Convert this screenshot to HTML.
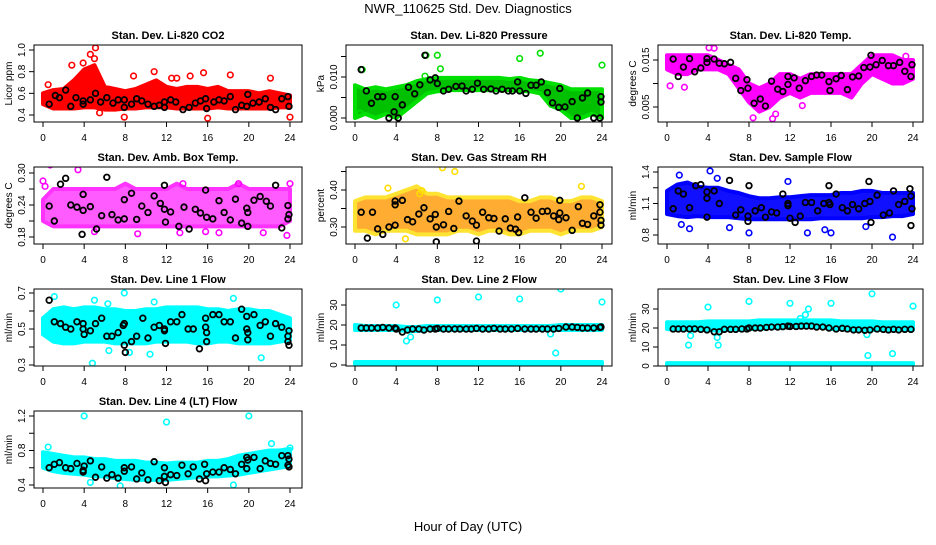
<!DOCTYPE html>
<html><head><meta charset="utf-8"><style>
html,body{margin:0;padding:0;background:#fff;}
svg text{font-family:"Liberation Sans",Arial,sans-serif;}
</style></head><body>
<svg id="c" width="936" height="540" viewBox="0 0 936 540" xmlns="http://www.w3.org/2000/svg">
<text x="468" y="13" font-size="13" text-anchor="middle">NWR_110625  Std. Dev. Diagnostics</text>
<text x="468" y="531" font-size="13" text-anchor="middle">Hour of Day (UTC)</text>
</svg>
<script>
const xTicks=[0,4,8,12,16,20,24];
const titles=["Stan. Dev. Li-820 CO2","Stan. Dev. Li-820 Pressure","Stan. Dev. Li-820 Temp.","Stan. Dev. Amb. Box Temp.","Stan. Dev. Gas Stream RH","Stan. Dev. Sample Flow","Stan. Dev. Line 1 Flow","Stan. Dev. Line 2 Flow","Stan. Dev. Line 3 Flow","Stan. Dev. Line 4 (LT) Flow"];
const yTitles=["Licor ppm","kPa","degrees C","degrees C","percent","ml/min","ml/min","ml/min","ml/min","ml/min"];
const yTickVals=[[0.4,0.6,0.8,1.0],[0,0.005,0.010,0.015],[0.005,0.010,0.015],[0.18,0.21,0.24,0.27,0.30],[0.30,0.35,0.40,0.45],[0.8,0.95,1.1,1.25,1.4],[0.3,0.4,0.5,0.6,0.7],[0,10,20,30],[0,10,20,30],[0.4,0.6,0.8,1.0,1.2]];
const yTickLabels=[["0.4","0.6","0.8","1.0"],["0.000","","0.010",""],["0.005","","0.015"],["0.18","","0.24","","0.30"],["0.30","","0.40",""],["0.8","","1.1","","1.4"],["0.3","","0.5","","0.7"],["0","10","20","30"],["0","10","20","30"],["0.4","","0.8","","1.2"]];

const bandLo1=[0.5,0.46,0.46,0.46,0.47,0.47,0.45,0.45,0.46,0.46,0.47,0.47,0.47,0.46,0.46,0.46,0.46,0.47,0.46,0.46,0.46,0.46,0.46,0.47,0.47];
const bandHi1=[0.6,0.63,0.64,0.72,0.82,0.86,0.66,0.64,0.62,0.64,0.68,0.72,0.66,0.64,0.66,0.66,0.64,0.66,0.62,0.62,0.62,0.6,0.62,0.6,0.58];
const bandLo2=[0,0.001,0,0.001,0,0.002,0.004,0.006,0.0065,0.0068,0.0068,0.0068,0.0068,0.0068,0.0068,0.0068,0.0066,0.0065,0.006,0.003,0.002,0,0,0.001,0];
const bandHi2=[0.008,0.007,0.0075,0.007,0.0075,0.008,0.009,0.0095,0.0098,0.0098,0.0098,0.0098,0.0098,0.0098,0.0098,0.0095,0.0098,0.0092,0.009,0.0085,0.008,0.007,0.007,0.007,0.007];
const bandLo3=[0.013,0.012,0.012,0.013,0.013,0.013,0.012,0.009,0.006,0.004,0.005,0.007,0.008,0.007,0.008,0.008,0.008,0.008,0.007,0.010,0.012,0.011,0.010,0.010,0.011];
const bandHi3=[0.016,0.016,0.016,0.016,0.016,0.015,0.014,0.013,0.010,0.009,0.010,0.012,0.012,0.011,0.012,0.012,0.012,0.012,0.012,0.014,0.016,0.016,0.016,0.015,0.015];
const bandLo4=[0.21,0.2,0.2,0.2,0.2,0.2,0.2,0.2,0.2,0.2,0.2,0.2,0.2,0.2,0.2,0.2,0.2,0.2,0.2,0.2,0.2,0.2,0.2,0.2,0.21];
const bandHi4=[0.25,0.27,0.27,0.27,0.27,0.27,0.27,0.27,0.28,0.27,0.27,0.27,0.27,0.28,0.27,0.27,0.27,0.27,0.27,0.28,0.27,0.27,0.27,0.27,0.27];
const bandLo5=[0.29,0.29,0.28,0.29,0.29,0.29,0.28,0.28,0.28,0.28,0.29,0.29,0.28,0.29,0.29,0.28,0.28,0.29,0.29,0.29,0.28,0.29,0.29,0.29,0.3];
const bandHi5=[0.37,0.38,0.38,0.38,0.39,0.40,0.41,0.39,0.39,0.38,0.38,0.38,0.38,0.38,0.38,0.38,0.37,0.37,0.38,0.38,0.37,0.37,0.38,0.38,0.37];
const bandLo6=[1.0,0.98,0.97,0.98,0.97,0.97,0.97,0.96,0.95,0.95,0.95,0.95,0.95,0.95,0.95,0.96,0.96,0.96,0.96,0.96,0.97,0.97,0.98,0.98,1.0];
const bandHi6=[1.22,1.28,1.3,1.26,1.25,1.25,1.22,1.2,1.17,1.15,1.15,1.16,1.16,1.17,1.18,1.18,1.18,1.2,1.2,1.22,1.22,1.2,1.2,1.2,1.2];
const bandLo7=[0.47,0.43,0.42,0.42,0.43,0.43,0.43,0.42,0.42,0.42,0.42,0.43,0.43,0.43,0.43,0.42,0.42,0.43,0.43,0.42,0.42,0.42,0.42,0.43,0.44];
const bandHi7=[0.56,0.61,0.62,0.61,0.62,0.62,0.61,0.61,0.6,0.6,0.61,0.61,0.62,0.62,0.62,0.62,0.61,0.61,0.6,0.61,0.61,0.6,0.6,0.58,0.56];
const bandLo8=[17.5,17.5,17.5,17.5,17.5,17,17,17.5,17.5,17.5,17.5,17.5,17.5,17.5,17.5,17.5,17.5,17.5,17.5,17.5,17.5,17.5,17.5,17.5,17.5];
const bandHi8=[20,19.5,19.5,19.5,19.5,19,19,19.5,19.5,19.5,19.5,19.5,19.5,19.5,19.5,19.5,19.5,19.5,19.5,19.5,20,20,20,20,20];
const bandLo8b=[0.5,0.5,0.5,0.5,0.5,0.5,0.5,0.5,0.5,0.5,0.5,0.5,0.5,0.5,0.5,0.5,0.5,0.5,0.5,0.5,0.5,0.5,0.5,0.5,0.5];
const bandHi8b=[1.5,1.5,1.5,1.5,1.5,1.5,1.5,1.5,1.5,1.5,1.5,1.5,1.5,1.5,1.5,1.5,1.5,1.5,1.5,1.5,1.5,1.5,1.5,1.5,1.5];
const bandLo9=[19.5,19,19,19,19,18.5,19,19,19.5,19.5,20,20,20.5,20.5,20.5,20.5,19.5,19.5,19,19,19,19,19,19,19];
const bandHi9=[23,23,23,23,23.5,23.5,23.5,23.5,23.5,24,24,24,24,24,24,24,24,23.5,23.5,23.5,23.5,23,23,23,23];
const bandLo9b=[0.5,0.5,0.5,0.5,0.5,0.5,0.5,0.5,0.5,0.5,0.5,0.5,0.5,0.5,0.5,0.5,0.5,0.5,0.5,0.5,0.5,0.5,0.5,0.5,0.5];
const bandHi9b=[1.5,1.5,1.5,1.5,1.5,1.5,1.5,1.5,1.5,1.5,1.5,1.5,1.5,1.5,1.5,1.5,1.5,1.5,1.5,1.5,1.5,1.5,1.5,1.5,1.5];
const bandLo10=[0.6,0.56,0.54,0.53,0.52,0.5,0.5,0.48,0.47,0.46,0.46,0.46,0.46,0.47,0.48,0.49,0.5,0.5,0.51,0.52,0.54,0.56,0.58,0.6,0.62];
const bandHi10=[0.78,0.76,0.74,0.72,0.72,0.7,0.7,0.68,0.68,0.68,0.66,0.66,0.65,0.66,0.66,0.66,0.68,0.68,0.7,0.74,0.76,0.78,0.8,0.8,0.82];

const out1=[[4.6,0.96],[5.1,1.02],[5.0,0.92],[3.9,0.88],[2.8,0.86],[8.8,0.76],[10.8,0.8],[15.6,0.79],[14.3,0.76],[18.2,0.77],[22.1,0.74],[7.9,0.38],[16,0.37],[24,0.38],[5.5,0.42],[0.5,0.68],[12.5,0.74],[13,0.74]];
const out2=[[0.7,0.0118],[6.9,0.0153],[8,0.0153],[8.3,0.012],[16,0.0145],[18,0.0158],[24,0.0129],[0.5,0.0012],[6.8,0.0102]];
const out3=[[1.7,0.0092],[4.1,0.0176],[4.6,0.0175],[8.4,0.0027],[10.3,0.0025],[13.2,0.0053],[0.3,0.0095],[23.3,0.0158],[10.6,0.0035]];
const out4=[[0.7,0.315],[0,0.285],[3.4,0.306],[0.2,0.275],[13.3,0.188],[15.8,0.19],[17.1,0.188],[21.4,0.188],[23.7,0.183],[5,0.19],[9.2,0.186],[13.6,0.28],[19,0.28],[24,0.28]];
const out5=[[3.2,0.405],[8.5,0.46],[9.7,0.45],[22,0.41],[4.9,0.268],[6.3,0.39],[6.5,0.398]];
const out6=[[1.2,1.37],[4.2,1.41],[4.9,1.34],[11.8,1.31],[2.2,0.86],[1.4,0.9],[6.1,0.87],[8,0.82],[13.7,0.82],[15.4,0.85],[16,0.82],[22,0.78],[19.4,0.88]];
const out7=[[1.1,0.68],[4.8,0.31],[7.9,0.7],[18.5,0.67],[21.2,0.34],[10.4,0.36],[6.4,0.38],[8.4,0.37],[5,0.66],[6.3,0.64],[10.8,0.65]];
const out8=[[4,30],[8,32.5],[12,34],[16,33],[20,38],[24,31.5],[5,12],[5.4,14],[19,15.5],[19.5,6]];
const out9=[[4,31],[8,34],[12,33],[13.5,27],[13.8,30],[16,33],[20,38],[24,31.5],[2.1,11],[2.3,16],[4.9,15],[5,11],[19.5,16.5],[19.6,5.5],[22,6.5],[13,25]];
const out10=[[4,1.2],[12,1.13],[20,1.2],[22.2,0.88],[0.5,0.84],[4.6,0.43],[7.5,0.39],[18.5,0.4],[24,0.83]];

const blk1=[[0.6,0.5],[1.2,0.58],[1.6,0.56],[2.2,0.63],[2.7,0.48],[3.2,0.56],[3.9,0.53],[3.9,0.5],[4.6,0.54],[5.1,0.6],[5.6,0.52],[6.2,0.56],[6.8,0.51],[7.3,0.54],[7.9,0.54],[7.9,0.47],[8.6,0.5],[9.1,0.55],[9.6,0.53],[10.2,0.5],[10.8,0.48],[11.3,0.49],[11.8,0.47],[11.8,0.52],[12.4,0.54],[12.9,0.52],[13.6,0.45],[14.2,0.47],[14.8,0.51],[15.3,0.53],[15.8,0.55],[15.9,0.46],[16.6,0.52],[17.1,0.54],[17.6,0.53],[18.2,0.57],[18.7,0.45],[19.3,0.49],[19.8,0.48],[19.9,0.59],[20.4,0.51],[21,0.52],[21.6,0.55],[22.1,0.47],[22.6,0.45],[23.2,0.55],[23.8,0.57],[23.9,0.48]];
const blk2=[[0.6,0.0118],[1.1,0.0066],[1.6,0.0036],[2.2,0.0052],[2.7,0.0052],[3.3,0],[3.8,0.0015],[3.9,0.0052],[4.2,0],[4.6,0.0032],[5.2,0.0075],[5.8,0.0059],[6.3,0.0081],[6.8,0.0153],[7.3,0.0093],[7.8,0.0098],[8,0.0084],[8.6,0.0066],[9.1,0.007],[9.8,0.0077],[10.4,0.0078],[10.8,0.0066],[11.4,0.007],[11.9,0.0085],[12.5,0.007],[13.2,0.0071],[13.7,0.0066],[14.3,0.007],[14.9,0.0066],[15.3,0.0066],[15.8,0.0088],[16,0.0066],[16.6,0.006],[17.1,0.008],[17.6,0.008],[18.1,0.0088],[18.7,0.0062],[19.2,0.0037],[19.8,0.0026],[19.9,0.0072],[20.4,0.0027],[21.1,0.004],[21.6,0],[22.1,0.0049],[22.6,0.0061],[23.2,0],[23.8,0],[23.9,0.0052],[23.9,0.0039]];
const blk3=[[0.6,0.0152],[1.1,0.0115],[1.6,0.0135],[2.2,0.0153],[2.7,0.0125],[3.3,0.0133],[3.9,0.0153],[3.9,0.0145],[4.6,0.0152],[5.1,0.0143],[5.6,0.0142],[6.2,0.0145],[6.7,0.0111],[7.2,0.0085],[7.8,0.0108],[7.9,0.009],[8.5,0.0058],[9.1,0.0067],[9.6,0.0052],[10.2,0.0105],[10.8,0.0088],[11.3,0.0083],[11.8,0.0115],[11.8,0.0098],[12.4,0.0112],[12.9,0.009],[13.5,0.0106],[14.1,0.0115],[14.6,0.0118],[15.1,0.0118],[15.8,0.0104],[15.9,0.0085],[16.5,0.011],[17,0.0117],[17.6,0.0087],[18.1,0.0114],[18.7,0.0116],[19.2,0.0134],[19.8,0.0135],[19.9,0.016],[20.4,0.014],[21,0.0149],[21.6,0.0138],[22.1,0.0138],[22.7,0.0145],[23.2,0.0126],[23.8,0.0115],[23.9,0.014]];
const blk4=[[0.6,0.238],[1.1,0.21],[1.7,0.279],[2.2,0.29],[2.7,0.24],[3.3,0.236],[3.8,0.185],[3.9,0.23],[3.9,0.26],[4.6,0.237],[5.2,0.195],[5.7,0.22],[6.2,0.292],[6.7,0.222],[7.3,0.212],[7.9,0.25],[7.9,0.214],[8.6,0.262],[9.1,0.213],[9.6,0.238],[10.2,0.226],[10.8,0.257],[11.4,0.243],[11.8,0.277],[11.8,0.232],[11.9,0.208],[12.4,0.227],[13.2,0.2],[13.7,0.236],[14.2,0.195],[14.8,0.232],[15.3,0.225],[15.8,0.268],[15.9,0.217],[16.5,0.214],[17.1,0.248],[17.6,0.226],[18.2,0.212],[18.7,0.251],[19.3,0.206],[19.8,0.234],[19.9,0.2],[19.9,0.226],[20.5,0.249],[21.1,0.256],[21.7,0.247],[22.1,0.238],[22.6,0.277],[23.2,0.197],[23.8,0.239],[23.8,0.214],[23.9,0.222]];
const blk5=[[0.6,0.34],[1.2,0.27],[1.7,0.34],[2.2,0.295],[2.7,0.28],[3.3,0.3],[3.9,0.37],[3.9,0.305],[3.9,0.36],[4.6,0.372],[5.1,0.32],[5.6,0.314],[6.2,0.335],[6.7,0.352],[7.3,0.322],[7.8,0.334],[7.9,0.26],[7.9,0.3],[8.6,0.306],[9.1,0.342],[9.6,0.296],[10.1,0.37],[10.8,0.33],[11.4,0.316],[11.8,0.305],[11.8,0.262],[12.4,0.34],[13,0.325],[13.5,0.323],[14,0.289],[14.6,0.322],[15.1,0.297],[15.6,0.294],[15.8,0.327],[15.9,0.285],[16.5,0.379],[17.1,0.34],[17.6,0.324],[18.2,0.342],[18.7,0.343],[19.3,0.33],[19.8,0.32],[19.9,0.338],[19.9,0.372],[20.5,0.325],[21.1,0.291],[21.7,0.355],[22.1,0.31],[22.6,0.307],[23.2,0.33],[23.8,0.36],[23.8,0.34],[23.9,0.318],[23.9,0.305]];
const blk6=[[0.6,1.05],[1.1,1.22],[1.6,1.19],[2.2,1.06],[2.8,1.27],[3.3,1.28],[3.9,1.21],[3.9,1.15],[3.9,0.97],[4.6,1.22],[5.1,1.1],[6.1,1.32],[6.7,0.99],[7.2,1.04],[7.9,0.98],[7.9,0.93],[8,1.27],[8.6,1.03],[9.2,1.06],[9.6,0.97],[10.2,1.02],[10.7,1.01],[11.3,1.19],[11.8,1.08],[11.8,1.1],[12,0.96],[12.5,0.92],[13,0.98],[13.5,1.11],[14.1,1.11],[14.7,1.03],[15.3,1.1],[15.8,1.27],[15.8,1.11],[15.9,1.09],[16.5,1.19],[17.1,1.06],[17.6,1.03],[18.1,1.09],[18.7,1.05],[19.3,1.1],[19.7,1.31],[19.8,1.12],[19.9,0.92],[20.5,1.18],[21.1,0.99],[21.7,1.01],[22.1,1.22],[22.6,1.09],[23.2,1.12],[23.7,1.24],[23.8,1.17],[23.9,1.05],[23.8,0.89]];
const blk7=[[0.6,0.66],[1.1,0.54],[1.7,0.53],[2.2,0.51],[2.7,0.5],[3.3,0.54],[3.9,0.53],[3.9,0.5],[4,0.47],[4.6,0.49],[5.1,0.53],[5.7,0.56],[6.2,0.46],[6.7,0.46],[7.3,0.48],[7.8,0.52],[7.9,0.53],[7.9,0.41],[8,0.37],[8.6,0.43],[9.1,0.46],[9.7,0.56],[10.2,0.45],[10.8,0.51],[11.3,0.52],[11.8,0.49],[11.8,0.5],[11.9,0.42],[12.4,0.54],[13,0.54],[13.5,0.58],[14.1,0.5],[14.6,0.5],[15.2,0.39],[15.8,0.56],[15.8,0.51],[15.9,0.48],[15.9,0.43],[16.5,0.58],[17.1,0.58],[17.6,0.54],[18.2,0.54],[18.7,0.45],[19.3,0.61],[19.8,0.57],[19.8,0.5],[19.9,0.44],[19.9,0.48],[20.5,0.58],[21.1,0.52],[21.6,0.54],[22.1,0.46],[22.6,0.53],[23.2,0.51],[23.8,0.46],[23.8,0.43],[23.9,0.41],[23.9,0.49]];
const blk8=[[0.6,18.5],[1.1,18.5],[1.6,18.5],[2.2,18.5],[2.7,18.8],[3.3,18.5],[3.9,18.5],[4,18],[4.6,16.5],[5.1,17.5],[5.6,18],[6.2,18],[6.7,17.5],[7.3,18],[7.8,18],[8,18.3],[8.6,18],[9.1,18],[9.7,18],[10.2,18],[10.8,18],[11.3,18],[11.8,18.3],[12.4,18],[13,18],[13.5,18.3],[14.1,18],[14.6,18],[15.2,18],[15.8,18.3],[16.5,18],[17.1,18],[17.6,18],[18.2,18],[18.7,18],[19.3,18],[19.8,18.3],[20.5,19],[21.1,19],[21.6,18.8],[22.1,18.5],[22.6,18.5],[23.2,18.5],[23.8,18.8],[23.9,19]];
const blk9=[[0.6,19.5],[1.1,19.5],[1.6,19.5],[2.2,19.5],[2.7,19.5],[3.3,19.3],[3.9,19],[4.6,18],[5.1,18],[5.6,19.3],[6.2,19.3],[6.7,19.3],[7.3,19.5],[7.8,19.5],[8,20],[8.6,20],[9.1,20],[9.7,20.3],[10.2,20.5],[10.8,20.5],[11.3,20.7],[11.8,21],[12,20.8],[12.6,20.8],[13.1,21],[13.6,21],[14.1,21],[14.6,20.5],[15.2,20.5],[15.8,20],[16.5,19.5],[17.1,19.8],[17.6,19.5],[18.2,19],[18.7,19],[19.3,18.8],[19.8,19],[20.5,19.5],[21.1,19.3],[21.6,19],[22.1,19.3],[22.6,19],[23.2,19.3],[23.8,19.3]];
const blk10=[[0.6,0.6],[1.1,0.64],[1.6,0.66],[2.2,0.6],[2.7,0.59],[3.3,0.65],[3.9,0.57],[3.9,0.55],[4,0.62],[4.6,0.68],[5.1,0.49],[5.7,0.61],[6.2,0.48],[6.7,0.52],[7.3,0.48],[7.9,0.6],[7.9,0.56],[8.6,0.61],[9.1,0.47],[9.6,0.54],[10.2,0.46],[10.8,0.67],[11.3,0.45],[11.8,0.6],[11.8,0.5],[11.9,0.43],[12.4,0.52],[13,0.51],[13.5,0.63],[14.1,0.53],[14.6,0.61],[15.2,0.47],[15.7,0.64],[15.8,0.45],[15.9,0.53],[16.5,0.55],[17.1,0.55],[17.6,0.6],[18.2,0.58],[18.7,0.53],[19.3,0.64],[19.8,0.59],[19.8,0.72],[19.9,0.69],[20.5,0.72],[21.1,0.59],[21.6,0.68],[22.1,0.65],[22.6,0.64],[23.2,0.74],[23.8,0.74],[23.8,0.63],[23.9,0.61],[23.9,0.7]];

const bands=[[[bandLo1,bandHi1]],[[bandLo2,bandHi2]],[[bandLo3,bandHi3]],[[bandLo4,bandHi4]],[[bandLo5,bandHi5]],[[bandLo6,bandHi6]],[[bandLo7,bandHi7]],[[bandLo8,bandHi8],[bandLo8b,bandHi8b]],[[bandLo9,bandHi9],[bandLo9b,bandHi9b]],[[bandLo10,bandHi10]]];
const outs=[out1,out2,out3,out4,out5,out6,out7,out8,out9,out10];
const blks=[blk1,blk2,blk3,blk4,blk5,blk6,blk7,blk8,blk9,blk10];

const cols=[{l:34,r:302,x0:43,x24:290},{l:346,r:612,x0:355,x24:602},{l:658,r:923,x0:667,x24:913}];
const rowTops=[45,167,289,411];
const yCal=[[1.0,50,0.4,115],[0.010,77,0,118],[0.015,60,0.005,107],[0.30,173,0.18,237],[0.40,190,0.30,227],[1.4,172,0.8,235],[0.7,293,0.3,365],[30,305,0,365],[30,309,0,366],[1.2,416,0.4,485]];
const styles=[{f:"#ff0000",s:"#ff0000"},{f:"#00c000",s:"#00e000"},{f:"#ff00ff",s:"#ff00ff"},{f:"#ff33ff",s:"#ff00ff"},{f:"#ff9900",s:"#ffdd00"},{f:"#1010ff",s:"#0000ff"},{f:"#00ffff",s:"#00ffff"},{f:"#00ffff",s:"#00ffff"},{f:"#00ffff",s:"#00ffff"},{f:"#00ffff",s:"#00ffff"}];

const NS="http://www.w3.org/2000/svg";
const svg=document.getElementById('c');
function mk(tag,attrs,parent){const e=document.createElementNS(NS,tag);for(const k in attrs)e.setAttribute(k,attrs[k]);(parent||svg).appendChild(e);return e;}

for(let p=0;p<10;p++){
  const col=cols[p%3], top=rowTops[Math.floor(p/3)], bot=top+77;
  const g=mk('g',{});
  
  
  const xs=h=>col.x0+(col.x24-col.x0)*h/24;
  const c=yCal[p];
  const ys=v=>c[1]+(v-c[0])*(c[3]-c[1])/(c[2]-c[0]);
  const clipId='clip'+p;
  const cp=mk('clipPath',{id:clipId},g);mk('rect',{x:col.l,y:top,width:col.r-col.l,height:bot-top},cp);
  const plot=mk('g',{'clip-path':'url(#'+clipId+')'},g);
  const st=styles[p];
  bands[p].forEach((b,bi)=>{
    const lo=b[0],hi=b[1];let pts=[];
    for(let h=0;h<hi.length;h++)pts.push(xs(h)+','+ys(hi[h]));
    for(let h=lo.length-1;h>=0;h--)pts.push(xs(h)+','+ys(lo[h]));
    const poly=mk('polygon',{points:pts.join(' '),fill:st.f,stroke:st.s,'stroke-width':4,'stroke-linejoin':'round',opacity:(p==3||p==4)?0.8:1},plot);
    
    
  });
  outs[p].forEach(d=>{
    const ci=mk('circle',{cx:xs(d[0]),cy:ys(d[1]),r:2.8,fill:'none',stroke:st.s,'stroke-width':1.6},plot);
    
    
  });
  blks[p].forEach(d=>{
    const ci=mk('circle',{cx:xs(d[0]),cy:ys(d[1]),r:2.8,fill:'none',stroke:'#000','stroke-width':1.8},plot);
    
    
  });
  const box=mk('rect',{x:col.l,y:top,width:col.r-col.l,height:bot-top,fill:'none',stroke:'#000','stroke-width':1},g);
  
  
  const t=mk('text',{x:(col.l+col.r)/2,y:top-6,'font-size':11,'font-weight':'bold','text-anchor':'middle'},g);
  t.textContent=titles[p];
  
  
  xTicks.forEach(h=>{
    mk('line',{x1:xs(h),x2:xs(h),y1:bot,y2:bot+5,stroke:'#000'},g);
    const tx=mk('text',{x:xs(h),y:bot+19,'font-size':10,'text-anchor':'middle'},g);
    tx.textContent=h;
    
    
  });
  const tv=yTickVals[p];
  mk('line',{x1:col.l,x2:col.l,y1:ys(tv[0]),y2:ys(tv[tv.length-1]),stroke:'#000'},g);
  tv.forEach((v,i)=>{
    const y=ys(v);
    mk('line',{x1:col.l-5,x2:col.l,y1:y,y2:y,stroke:'#000'},g);
    const lab=yTickLabels[p][i];
    if(lab){
      const tx=mk('text',{x:0,y:0,'font-size':10,'text-anchor':'middle',transform:'translate('+(col.l-9)+','+y+') rotate(-90)'},g);
      tx.textContent=lab;
      
      
    }
  });
  const yt=mk('text',{x:0,y:0,'font-size':10,'text-anchor':'middle',transform:'translate('+(col.l-22)+','+((top+bot)/2)+') rotate(-90)'},g);
  yt.textContent=yTitles[p];
  
  
}
</script>
</body></html>
